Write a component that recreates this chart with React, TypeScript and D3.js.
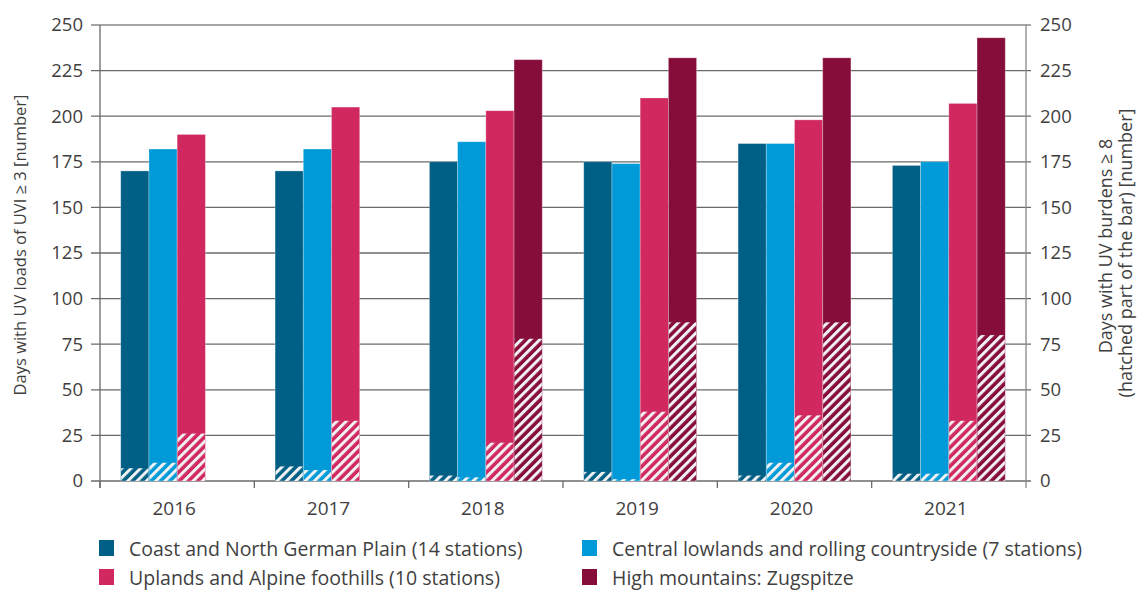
import React from "react";
import * as d3 from "d3";

const years = ["2016", "2017", "2018", "2019", "2020", "2021"];
const seriesNames = [
  "Coast and North German Plain (14 stations)",
  "Central lowlands and rolling countryside (7 stations)",
  "Uplands and Alpine foothills (10 stations)",
  "High mountains: Zugspitze",
];
const seriesColors = ["#005f85", "#009ad8", "#d0285f", "#860d3a"];
const coastTotal = [170, 170, 175, 175, 185, 173];
const centralTotal = [182, 182, 186, 174, 185, 175];
const uplandsTotal = [190, 205, 203, 210, 198, 207];
const zugTotal: (number | null)[] = [null, null, 231, 232, 232, 243];
const coastHigh = [7, 8, 3, 5, 3, 4];
const centralHigh = [10, 6, 2, 1, 10, 4];
const uplandsHigh = [26, 33, 21, 38, 36, 33];
const zugHigh: (number | null)[] = [null, null, 78, 87, 87, 80];
const yTicks = [0, 25, 50, 75, 100, 125, 150, 175, 200, 225, 250];

const totals = [coastTotal, centralTotal, uplandsTotal, zugTotal];
const highs = [coastHigh, centralHigh, uplandsHigh, zugHigh];

const W = 1146;
const H = 592;
const left = 100;
const right = 1026;
const top = 25;
const bottom = 481;
const FONT = "'Open Sans', 'Noto Sans', sans-serif";
const TEXT = "#3f3f3f";

export default function App() {
  const x0 = d3.scaleBand<string>().domain(years).range([left, right]).padding(0);
  const x1 = d3
    .scaleBand<number>()
    .domain([0, 1, 2, 3])
    .range([0, x0.bandwidth()])
    .paddingInner(0)
    .paddingOuter(0.735);
  const y = d3.scaleLinear().domain([0, 250]).range([bottom, top]);

  const bars: React.ReactNode[] = [];
  years.forEach((yr, i) => {
    totals.forEach((arr, s) => {
      const v = arr[i];
      if (v == null) return;
      const bx = (x0(yr) as number) + (x1(s) as number);
      const bw = x1.bandwidth();
      bars.push(
        <rect
          key={`t-${yr}-${s}`}
          x={bx}
          y={y(v)}
          width={bw}
          height={y(0) - y(v)}
          fill={seriesColors[s]}
          stroke="rgba(255,255,255,0.35)"
          strokeWidth={0.8}
        />
      );
      const h = highs[s][i];
      if (h != null && h > 0) {
        bars.push(
          <rect
            key={`h-${yr}-${s}`}
            x={bx + 0.4}
            y={y(h)}
            width={bw - 0.8}
            height={y(0) - y(h)}
            fill="url(#hatch)"
          />
        );
      }
    });
  });

  const legendItems = [
    { s: 0, x: 99, y: 556 },
    { s: 1, x: 582, y: 556 },
    { s: 2, x: 99, y: 585 },
    { s: 3, x: 582, y: 585 },
  ];

  return (
    <svg
      width={W}
      height={H}
      style={{ position: "absolute", left: 0, top: 0, background: "#fff" }}
      fontFamily={FONT}
    >
      <defs>
        <pattern
          id="hatch"
          patternUnits="userSpaceOnUse"
          width={6.6}
          height={6.6}
          patternTransform="rotate(45)"
        >
          <rect x={0} y={0} width={3} height={6.6} fill="#f2f2f2" />
        </pattern>
      </defs>

      {/* gridlines */}
      {yTicks.map((t) => (
        <line
          key={`g-${t}`}
          x1={left - 9}
          x2={right + 5}
          y1={y(t)}
          y2={y(t)}
          stroke={t === 250 ? "#888" : "#6a6a6a"}
          strokeWidth={1.3}
        />
      ))}
      {/* axes */}
      <line x1={left} x2={left} y1={top} y2={bottom + 7} stroke="#6a6a6a" strokeWidth={1.3} />
      <line x1={right} x2={right} y1={top} y2={bottom + 7} stroke="#888" strokeWidth={1.3} />
      {years.map((yr) => (
        <line
          key={`xt-${yr}`}
          x1={x0(yr) as number}
          x2={x0(yr) as number}
          y1={bottom}
          y2={bottom + 7}
          stroke="#6a6a6a"
          strokeWidth={1.3}
        />
      ))}

      {bars}

      {/* left tick labels */}
      {yTicks.map((t) => (
        <text
          key={`yl-${t}`}
          x={83}
          y={y(t)}
          dy="0.35em"
          textAnchor="end"
          fontSize={18.5}
          fill={TEXT}
        >
          {t}
        </text>
      ))}
      {/* right tick labels */}
      {yTicks.map((t) => (
        <text
          key={`yr-${t}`}
          x={1040}
          y={y(t)}
          dy="0.35em"
          textAnchor="start"
          fontSize={18.5}
          fill={TEXT}
        >
          {t}
        </text>
      ))}
      {/* x labels */}
      {years.map((yr) => (
        <text
          key={`xl-${yr}`}
          x={(x0(yr) as number) + x0.bandwidth() / 2 - 3}
          y={508}
          dy="0.35em"
          textAnchor="middle"
          fontSize={19}
          fill={TEXT}
        >
          {yr}
        </text>
      ))}

      {/* axis titles */}
      <text
        transform={`translate(20,245) rotate(-90)`}
        textAnchor="middle"
        dy="0.35em"
        fontSize={16.5}
        fill={TEXT}
      >
        Days with UV loads of UVI ≥ 3 [number]
      </text>
      <text
        transform={`translate(1106,246) rotate(-90)`}
        textAnchor="middle"
        dy="0.35em"
        fontSize={18}
        fill={TEXT}
      >
        Days with UV burdens ≥ 8
      </text>
      <text
        transform={`translate(1126,253) rotate(-90)`}
        textAnchor="middle"
        dy="0.35em"
        fontSize={18}
        fill={TEXT}
      >
        (hatched part of the bar) [number]
      </text>

      {/* legend */}
      {legendItems.map((it) => (
        <g key={`lg-${it.s}`}>
          <rect x={it.x} y={it.y - 16} width={15} height={16} fill={seriesColors[it.s]} />
          <text x={it.x + 30} y={it.y} fontSize={19.5} fill={TEXT}>
            {seriesNames[it.s]}
          </text>
        </g>
      ))}
    </svg>
  );
}
